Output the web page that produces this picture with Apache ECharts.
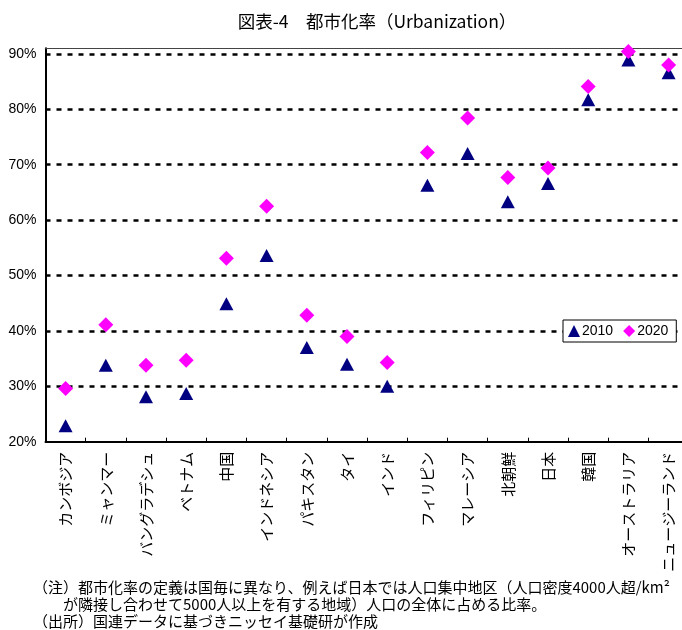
<!DOCTYPE html>
<html>
<head>
<meta charset="utf-8">
<script src="https://cdn.jsdelivr.net/npm/echarts@6/dist/echarts.min.js"></script>
<style>
  html, body { margin: 0; padding: 0; background: #fff; }
  #chart { width: 682px; height: 630px; }
</style>
</head>
<body>
<div id="chart"></div>
<script>
// Urbanization rate by country, 2010 vs 2020 (percent)
const categories = ['カンボジア', 'ミャンマー', 'バングラデシュ', 'ベトナム', '中国', 'インドネシア', 'パキスタン', 'タイ', 'インド', 'フィリピン', 'マレーシア', '北朝鮮', '日本', '韓国', 'オーストラリア', 'ニュージーランド'];
const rate2010 = [22.9, 33.8, 28.1, 28.7, 44.9, 53.6, 37.0, 34.0, 30.0, 66.3, 72.0, 63.3, 66.6, 81.7, 88.9, 86.6];
const rate2020 = [29.6, 41.1, 33.8, 34.7, 53.1, 62.5, 42.8, 39.0, 34.3, 72.2, 78.4, 67.7, 69.4, 84.1, 90.4, 88.0];
const seriesNames = ['2010', '2020'];
const yTicks = { min: 20, max: 91, interval: 10 };

const titleText = '図表-4　都市化率（Urbanization）';
const notes = [
  '（注）都市化率の定義は国毎に異なり、例えば日本では人口集中地区（人口密度4000人超/km²',
  '　　が隣接し合わせて5000人以上を有する地域）人口の全体に占める比率。',
  '（出所）国連データに基づきニッセイ基礎研が作成'
];

const jpFont = '"Noto Sans CJK JP", "Noto Sans", sans-serif';
const latinFont = '"Liberation Sans", Arial, sans-serif';

const chart = echarts.init(document.getElementById('chart'), null, { renderer: 'canvas' });

chart.setOption({
  animation: false,
  backgroundColor: '#fff',
  // plot area runs slightly past the right edge of the page
  grid: {
    left: 45.5, top: 48.3, right: -6.7, bottom: 188.3,
    containLabel: false,
    outerBoundsMode: 'none'
  },
  legend: {
    data: seriesNames,
    left: 563,
    top: 320,
    orient: 'horizontal',
    itemWidth: 12,
    itemHeight: 12,
    itemGap: 10,
    padding: [4, 8, 4, 5],
    backgroundColor: '#fff',
    borderColor: '#000',
    borderWidth: 1,
    borderRadius: 0,
    textStyle: { fontSize: 14, color: '#000', fontFamily: latinFont, padding: [0, 0, 0, -3] }
  },
  xAxis: [
    {
      type: 'category',
      data: categories,
      boundaryGap: true,
      axisLine: { show: true, lineStyle: { color: '#000', width: 2 } },
      axisTick: { show: true, inside: true, length: 4, lineStyle: { color: '#000', width: 1 } },
      axisLabel: {
        interval: 0,
        rotate: 90,
        margin: 10,
        fontSize: 15,
        color: '#000',
        fontFamily: jpFont
      },
      splitLine: { show: false }
    },
    {
      type: 'category',
      data: categories,
      position: 'top',
      axisLine: { show: true, lineStyle: { color: '#444', width: 1 } },
      axisTick: { show: false },
      axisLabel: { show: false },
      splitLine: { show: false }
    }
  ],
  yAxis: {
    type: 'value',
    min: yTicks.min,
    max: yTicks.max,
    interval: yTicks.interval,
    axisLine: { show: true, lineStyle: { color: '#000', width: 2 } },
    axisTick: { show: false },
    axisLabel: {
      formatter: '{value}%',
      showMaxLabel: false,
      margin: 9,
      fontSize: 14,
      color: '#000',
      fontFamily: latinFont
    },
    splitLine: {
      show: true,
      showMinLine: false,
      showMaxLine: false,
      lineStyle: { color: '#000', width: 2.5, type: [5, 6] }
    }
  },
  series: [
    {
      name: seriesNames[0],
      type: 'scatter',
      xAxisIndex: 0,
      data: rate2010,
      symbol: 'triangle',
      symbolSize: [14, 13],
      itemStyle: { color: '#000080', opacity: 1 },
      z: 3
    },
    {
      name: seriesNames[1],
      type: 'scatter',
      xAxisIndex: 0,
      data: rate2020,
      symbol: 'diamond',
      symbolSize: [15, 15],
      itemStyle: { color: '#FF00FF', opacity: 1 },
      z: 4
    }
  ],
  graphic: [
    {
      type: 'text',
      x: 377,
      y: 21,
      style: {
        text: titleText,
        font: '17.5px ' + jpFont,
        fill: '#000',
        align: 'center',
        verticalAlign: 'middle'
      }
    },
    ...notes.map((t, i) => ({
      type: 'text',
      x: 33,
      y: 587 + i * 17,
      style: {
        text: t,
        font: '15px ' + jpFont,
        fill: '#000',
        align: 'left',
        verticalAlign: 'middle'
      }
    }))
  ]
});
</script>
</body>
</html>
